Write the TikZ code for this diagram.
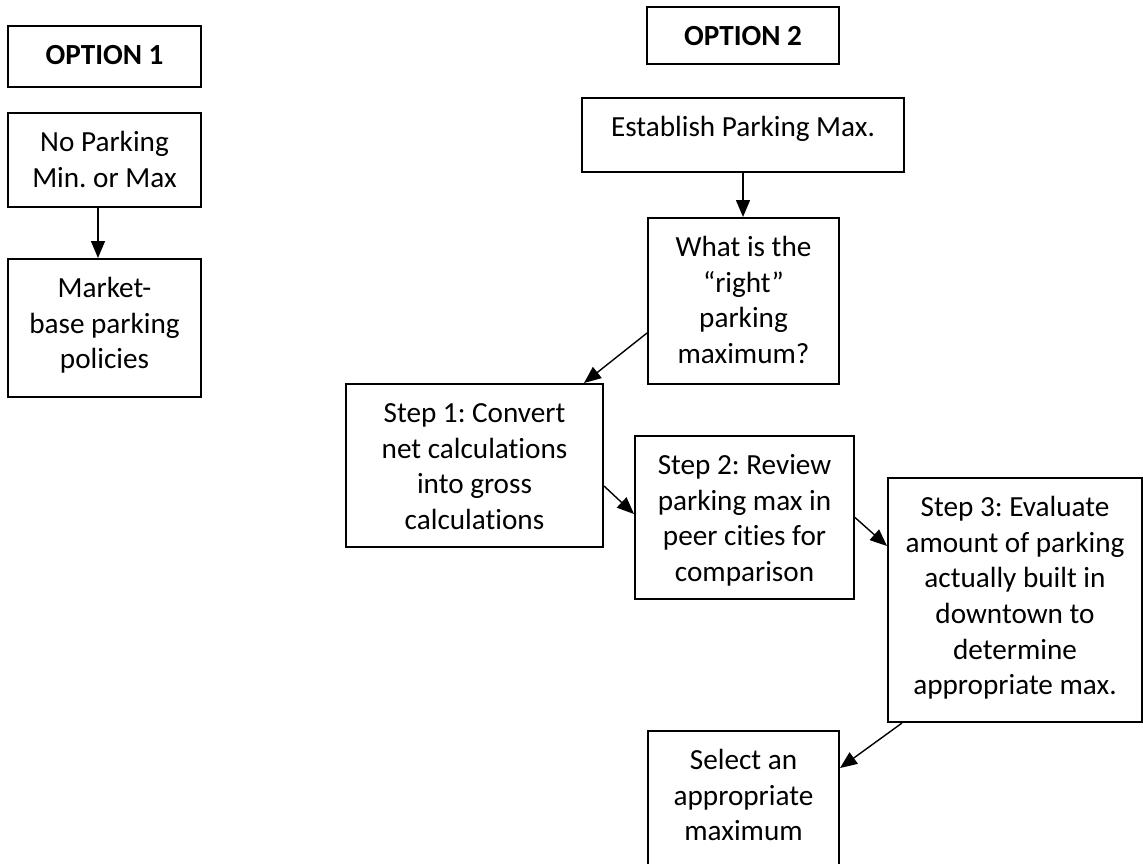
\documentclass[tikz,border=0pt]{standalone}
\usepackage{fontspec}
\setmainfont{Carlito}[Ligatures=CommonOff]
\usetikzlibrary{arrows.meta}
\newdimen\pxu \pxu=0.5pt
\newcommand\mybox[6]{\node[boxst] (#1) at (#2,#3) {\parbox[c][#5\pxu][t]{#4\pxu}{\frenchspacing\centering\rule{0pt}{19.3pt}#6}};}
\begin{document}
\begin{tikzpicture}[x=0.5pt,y=-0.5pt,
  boxst/.style={draw, line width=1pt, inner sep=0pt, anchor=north west,
    font=\fontsize{14.6pt}{17.8pt}\selectfont},
  arr/.style={-{Triangle[length=8.5pt,width=7pt]}, line width=0.7pt}]
\useasboundingbox (0,0) rectangle (1143,863);
\clip (0,0) rectangle (1143,863);
\mybox{opt1}{7}{25}{193}{61}{\textbf{OPTION 1}}
\mybox{nopark}{7}{112}{193}{94}{No Parking\\Min. or Max}
\mybox{market}{7}{258}{193}{138}{Market-\\base parking\\policies}
\mybox{opt2}{646}{6}{192}{57}{\textbf{OPTION 2}}
\mybox{establish}{581}{97}{322}{74}{Establish Parking Max.}
\mybox{what}{647}{217}{191}{166}{What is the\\“right”\\parking\\maximum?}
\mybox{step1}{345}{383}{257}{163}{Step 1: Convert\\net calculations\\into gross\\calculations}
\mybox{step2}{634}{435}{219}{163}{Step 2: Review\\parking max in\\peer cities for\\comparison}
\mybox{step3}{887}{477}{254}{244}{Step 3: Evaluate\\amount of parking\\actually built in\\downtown to\\determine\\appropriate max.}
\mybox{select}{647}{730}{191}{180}{Select an\\appropriate\\maximum}
\draw[arr] ([xshift=-3.25pt]nopark.south) -- ([xshift=-3.25pt]market.north);
\draw[arr] (establish.south) -- (establish.south |- what.north);
\draw[arr] ([yshift=-16pt]what.west) -- ([xshift=-10pt]step1.north east);
\draw[arr] ([yshift=-10.25pt]step1.east) -- ([yshift=1.75pt]step2.west);
\draw[arr] (step2.east) -- ([yshift=27pt]step3.west);
\draw[arr] ([xshift=7.5pt]step3.south west) -- ([yshift=-19pt]select.north east);
\end{tikzpicture}
\end{document}
